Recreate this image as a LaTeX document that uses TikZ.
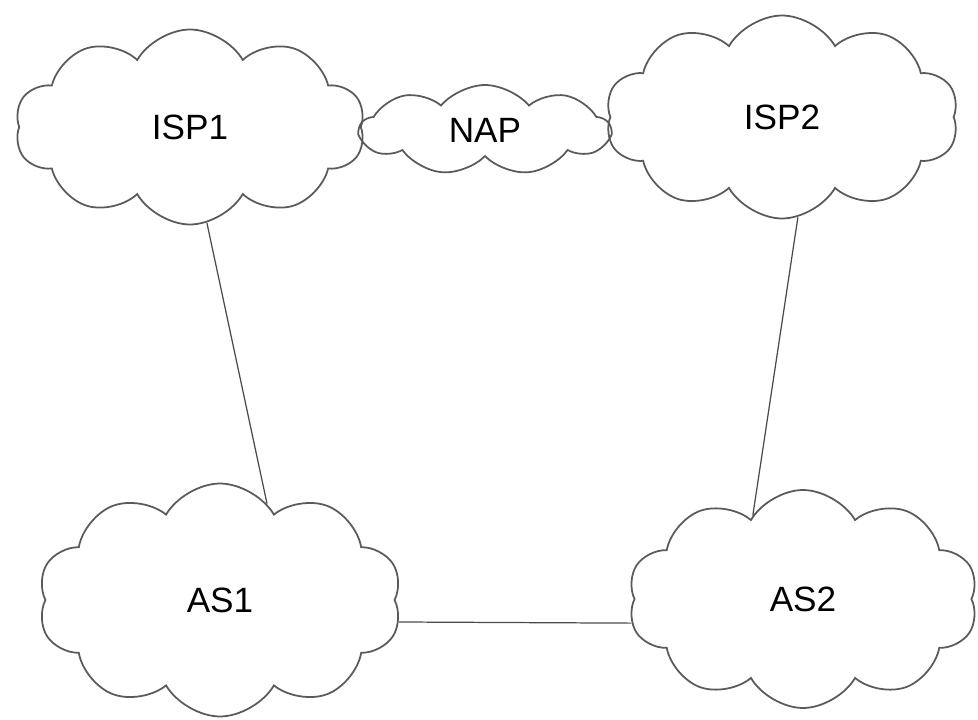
\documentclass[tikz,border=0pt]{standalone}
\usepackage{fontspec}
\setmainfont{Liberation Sans}
\usetikzlibrary{shapes.symbols}
\definecolor{borde}{HTML}{5A5A5A}
\definecolor{enlace}{HTML}{4A4A4A}
\tikzset{
  every picture/.style={font=\fontsize{20}{24}\selectfont},
  net/.style={cloud, cloud puffs=10, cloud puff arc=120, draw=borde, line width=1pt,
              inner sep=0pt, text=black},
  link/.style={draw=enlace, line width=0.7pt},
}
\begin{document}
\begin{tikzpicture}
  \useasboundingbox (0,0) rectangle (19.56,-14.4);
  \node[net, minimum width=7.0cm, minimum height=3.9cm] (isp1) at (3.8,-2.54) {ISP1};
  \node[net, cloud puffs=9, cloud puff arc=100, cloud ignores aspect, minimum width=5.0cm, minimum height=1.8cm] (nap) at (9.7,-2.6) {NAP};
  \node[net, minimum width=7.06cm, minimum height=4.06cm] (isp2) at (15.64,-2.34) {ISP2};
  \node[net, minimum width=7.28cm, minimum height=4.66cm] (as1) at (4.4,-12.0) {AS1};
  \node[net, minimum width=7.0cm, minimum height=4.36cm] (as2) at (16.06,-11.98) {AS2};
  \draw[link] (isp1.-80) -- (as1.64);
  \draw[link] (isp2.-81) -- (as2.121);
  \draw[link] (as1.-7) -- (as2.188);
\end{tikzpicture}
\end{document}
